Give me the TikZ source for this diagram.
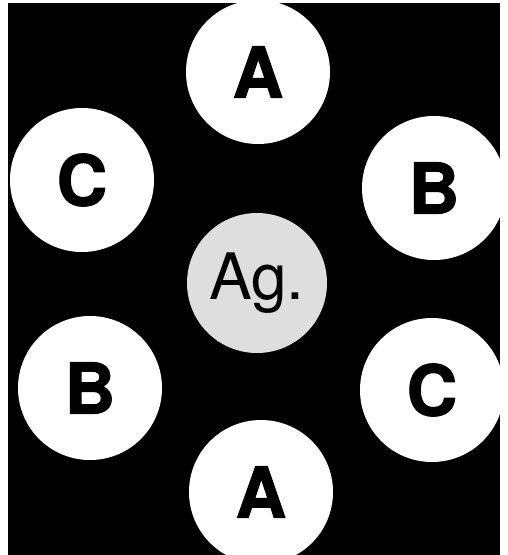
\documentclass[tikz,border=0pt]{standalone}
\usepackage{fontspec}
\setmainfont{TeX Gyre Heros}
\newfontfamily\heavyfont[Extension=.otf, UprightFont=*-bold, FakeBold=1.6]{texgyreheros}
\usepackage{tikz}
\definecolor{agrey}{RGB}{222,222,222}
\tikzset{disc/.style={circle, fill=white, minimum size=144pt, inner sep=0pt,
  font=\fontsize{70}{70}\heavyfont}}

\begin{document}
\begin{tikzpicture}[x=1pt, y=-1pt]
  \useasboundingbox (0,0) rectangle (507,555);
  \fill[white] (0,0) rectangle (507,555);
  \fill[black] (8,3) rectangle (500,555);
  \begin{scope}
    \clip (0,0) rectangle (507,555);
    % name, x, y, letter
    \foreach \n/\x/\y/\l in {atop/258/72/A, cleft/82/180/C, bright/434/188/B,
                             bleft/90/388/B, cright/432/390/C, abot/261/492/A} {
      \node[disc] (\n) at (\x,\y) {\l};
    }
    \node[disc, fill=agrey, minimum size=140pt, font=\fontsize{64}{64}\selectfont] (ag) at (257,283) {Ag.};
  \end{scope}
\end{tikzpicture}
\end{document}
